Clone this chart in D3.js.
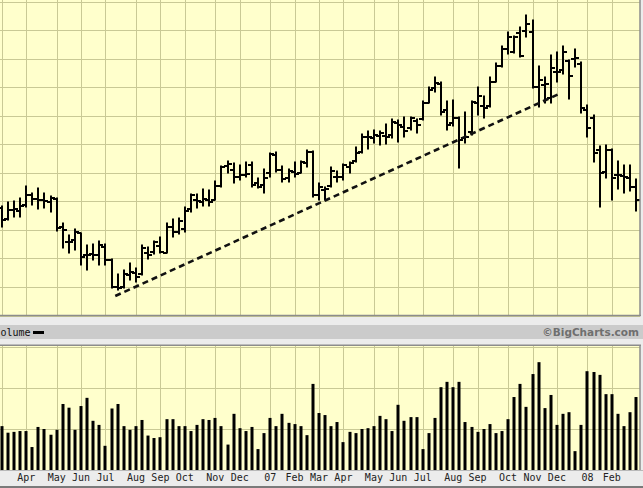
<!DOCTYPE html>
<html><head><meta charset="utf-8">
<script src="https://cdn.jsdelivr.net/npm/d3@7"></script>
<style>html,body{margin:0;padding:0;background:#ececec;overflow:hidden}</style>
</head><body>
<svg id="c" width="643" height="488"></svg>
<script>
// Weekly OHLC (arbitrary price units, grid step = 2)
const opens = [27.54,26.77,27.40,27.33,27.75,28.45,28.17,28.10,27.96,28.17,
26.21,25.16,25.30,25.79,24.25,24.32,24.25,24.81,23.90,22.00,
22.00,22.84,22.98,22.91,24.39,24.46,24.88,24.39,26.21,25.86,
26.07,27.47,28.10,27.96,28.10,28.10,29.08,30.48,30.20,29.71,
29.85,30.55,29.29,29.15,29.99,31.25,30.20,29.64,30.06,29.99,
30.69,31.46,28.45,28.80,29.08,29.71,29.71,30.41,30.83,31.46,
32.51,32.44,32.58,32.58,32.65,33.49,33.21,33.14,33.63,33.77,
34.89,35.94,36.22,34.40,33.49,33.84,32.44,32.86,34.89,34.68,
34.68,36.36,37.48,38.67,38.46,39.79,39.93,39.87,36.01,36.15,
35.24,37.06,37.20,37.83,37.97,37.62,34.40,33.84,31.60,30.06,
31.60,29.85,29.78,29.64,29.01];
const highs = [27.68,27.96,28.03,28.24,29.08,28.59,28.94,28.59,28.38,28.24,
26.49,25.65,26.07,25.79,24.95,25.02,25.23,25.02,23.97,22.91,
23.20,23.69,23.34,24.95,24.81,25.23,25.51,26.49,26.77,26.84,
27.61,28.52,28.52,28.87,28.80,29.43,30.48,30.83,30.69,30.55,
30.76,30.76,29.64,30.27,31.39,31.46,30.48,30.27,30.76,30.83,
31.60,31.53,29.29,29.01,30.41,30.13,30.62,30.76,31.81,32.72,
32.93,33.00,32.93,33.42,33.77,33.70,33.91,33.91,33.77,35.03,
36.01,36.71,36.36,35.03,35.10,33.91,34.26,35.03,36.01,35.38,
36.71,37.69,38.88,39.87,39.59,40.22,41.06,40.70,37.48,36.71,
38.25,38.46,38.88,37.90,38.67,37.76,34.75,34.05,31.88,31.95,
31.67,30.83,30.55,30.55,29.57];
const lows = [26.21,26.70,26.91,26.91,27.61,27.75,27.47,27.54,27.26,25.93,
24.74,24.39,24.60,23.55,23.20,23.90,23.55,23.55,21.93,21.79,
21.93,22.50,22.35,22.84,23.97,24.32,24.39,24.39,25.51,25.71,
25.86,27.26,27.54,27.68,27.68,28.10,29.01,29.99,29.29,29.50,
29.71,29.01,28.94,28.59,29.71,30.06,29.36,29.36,29.71,29.99,
30.41,28.31,28.10,28.10,29.01,29.36,29.50,29.99,30.76,31.39,
31.67,32.09,31.95,32.02,32.44,32.16,32.51,33.00,32.79,33.70,
34.89,35.66,34.05,33.00,33.28,30.34,32.09,32.65,34.05,33.84,
34.61,36.36,37.41,38.32,38.39,38.11,39.51,35.94,34.61,34.89,
34.89,36.36,36.92,35.17,37.41,34.19,32.51,30.76,27.61,29.64,
28.10,28.87,28.59,28.73,27.33];
const closes = [26.70,27.40,27.47,27.68,28.45,28.17,28.10,28.03,28.24,26.14,
26.00,25.16,25.86,24.11,24.25,24.25,24.95,23.90,22.00,21.93,
22.91,23.06,22.71,24.74,24.25,25.16,24.46,26.21,25.86,26.63,
27.33,28.45,28.03,28.17,27.96,29.08,30.41,30.62,29.71,29.85,
29.92,29.15,29.01,29.64,31.32,30.20,29.57,30.13,29.92,30.76,
31.46,28.45,29.01,28.87,30.13,29.71,30.55,30.69,31.39,32.51,
32.51,32.65,32.79,32.51,33.56,33.35,32.93,33.84,33.35,34.89,
35.80,36.29,34.26,33.35,33.84,32.30,32.51,34.96,35.38,34.54,
36.36,37.48,38.67,39.51,39.51,38.18,40.42,36.01,36.50,36.22,
37.34,37.06,38.46,36.78,38.04,34.54,33.14,31.39,29.99,31.60,
29.64,29.85,29.71,29.01,28.10];
// Weekly volume (millions, grid step = 10)
const volumes = [10.7,9.1,9.3,9.5,9.5,5.6,10.5,10.0,8.6,9.8,
16.1,15.2,9.8,15.6,17.6,12.0,11.0,5.9,15.0,16.1,
10.7,9.8,10.7,12.2,8.4,7.8,8.0,12.4,12.4,10.7,
10.7,9.5,11.0,12.4,12.2,12.7,10.7,6.2,13.7,10.2,
9.5,10.5,5.1,9.0,12.7,10.7,13.7,11.5,11.2,10.7,
8.5,21.0,13.9,13.4,10.7,11.7,6.8,9.3,9.0,10.0,
10.2,10.7,13.2,12.4,9.5,15.9,12.0,12.9,12.9,5.1,
9.0,12.7,20.2,21.5,20.2,21.5,11.7,10.5,9.3,10.0,
11.2,9.0,9.5,12.4,17.8,21.0,15.4,23.4,26.3,15.1,
18.3,11.0,13.7,14.1,4.6,11.0,24.1,23.9,23.2,18.5,
18.5,13.7,10.7,14.1,17.8];
// Month gridlines (week index) and labels
const monthWeeks  = [0,4,9,13,17,22,26,30,35,39,44,48,52,56,61,65,69,74,78,83,87,91,96,100];
const monthLabels = ["","Apr","May","Jun","Jul","Aug","Sep","Oct","Nov","Dec","07","Feb","Mar","Apr","May","Jun","Jul","Aug","Sep","Oct","Nov","Dec","08","Feb"];
const priceTicks = [20,22,24,26,28,30,32,34,36,38,40,42];
const volumeTicks = [10,20,30];
const trendWeeks = [18.6, 91.7];
const trendPrices = [21.37, 35.59];
const legendLabel = "olume";   // as shown (left edge of "Volume" is cut in the original)
const creditLabel = "©BigCharts.com";

const svg = d3.select("#c");
const W = 643, paneR = 640;
const x = d3.scaleLinear().domain([0, 104]).range([1.8, 1.8 + 104 * 6.1]);
const yP = d3.scaleLinear().domain([20, 42]).range([315.6, 1.5]);
const yV = d3.scaleLinear().domain([0, 30]).range([470, 347]);
const gridC = "#c9c995", yellow = "#ffffcc", borderC = "#8c8c8c";

svg.append("rect").attr("width", W).attr("height", 488).attr("fill", "#ececec");
svg.append("rect").attr("x", 0).attr("y", 0).attr("width", paneR).attr("height", 315).attr("fill", yellow);
svg.append("rect").attr("x", 0).attr("y", 345).attr("width", paneR).attr("height", 125).attr("fill", yellow);
svg.append("rect").attr("x", 0).attr("y", 325).attr("width", W).attr("height", 14).attr("fill", "#cbcbcb");

const px = v => Math.round(v) + 0.5;
const gp = svg.append("g").attr("stroke", gridC).attr("stroke-width", 1);
gp.selectAll("line.h").data(priceTicks).join("line")
  .attr("x1", 0).attr("x2", paneR).attr("y1", d => px(yP(d))).attr("y2", d => px(yP(d)));
gp.selectAll("line.v").data(monthWeeks).join("line")
  .attr("x1", d => px(x(d))).attr("x2", d => px(x(d))).attr("y1", 0).attr("y2", 315);
const gv = svg.append("g").attr("stroke", gridC).attr("stroke-width", 1);
gv.selectAll("line.h").data(volumeTicks).join("line")
  .attr("x1", 0).attr("x2", paneR).attr("y1", d => px(yV(d))).attr("y2", d => px(yV(d)));
gv.selectAll("line.v").data(monthWeeks).join("line")
  .attr("x1", d => px(x(d))).attr("x2", d => px(x(d))).attr("y1", 345).attr("y2", 470);

const bars = opens.map((o, i) => ({i, o, h: highs[i], l: lows[i], c: closes[i], v: volumes[i]}));
const gb = svg.append("g").attr("stroke", "#000").attr("stroke-width", 2);
bars.forEach(d => {
  const cx = Math.round(x(d.i));
  gb.append("line").attr("x1", cx).attr("x2", cx).attr("y1", yP(d.h) - 0.5).attr("y2", yP(d.l) + 0.5);
  gb.append("line").attr("x1", cx - 4).attr("x2", cx).attr("y1", Math.round(yP(d.o))).attr("y2", Math.round(yP(d.o)));
  gb.append("line").attr("x1", cx).attr("x2", cx + 4).attr("y1", Math.round(yP(d.c))).attr("y2", Math.round(yP(d.c)));
});

svg.append("path")
  .attr("d", d3.line().x(d => x(d[0])).y(d => yP(d[1]))(trendWeeks.map((w, k) => [w, trendPrices[k]])))
  .attr("fill", "none").attr("stroke", "#111").attr("stroke-width", 2.6).attr("stroke-dasharray", "6,4");

svg.append("g").selectAll("rect").data(bars).join("rect")
  .attr("x", d => Math.round(x(d.i)) - 1.5).attr("width", 3)
  .attr("y", d => yV(d.v)).attr("height", d => yV(0) - yV(d.v)).attr("fill", "#000");

const gbd = svg.append("g").attr("stroke", borderC).attr("stroke-width", 1.5).attr("fill", "none");
gbd.append("line").attr("x1", 0).attr("x2", 641).attr("y1", 315.5).attr("y2", 315.5);
gbd.append("line").attr("x1", 640).attr("x2", 640).attr("y1", 0).attr("y2", 316);
gbd.append("line").attr("x1", 0).attr("x2", 641).attr("y1", 345.25).attr("y2", 345.25);
gbd.append("line").attr("x1", 640).attr("x2", 640).attr("y1", 345).attr("y2", 471);
svg.append("line").attr("x1", 0).attr("x2", W).attr("y1", 470.5).attr("y2", 470.5).attr("stroke", "#b8b8b8");
svg.append("line").attr("x1", 0).attr("x2", W).attr("y1", 487).attr("y2", 487).attr("stroke", "#7a7a7a").attr("stroke-width", 2);

svg.append("text").attr("x", 0.5).attr("y", 336).text(legendLabel)
  .attr("font-family", "DejaVu Sans Mono").attr("font-size", 10).attr("fill", "#111");
svg.append("rect").attr("x", 33).attr("y", 331).attr("width", 11).attr("height", 3).attr("fill", "#000");
svg.append("text").attr("x", 639).attr("y", 336).attr("text-anchor", "end").text(creditLabel)
  .attr("font-family", "DejaVu Sans").attr("font-weight", "bold").attr("font-size", 10.5).attr("fill", "#6f6f6f");

svg.append("g").selectAll("text").data(monthWeeks.map((w, k) => ({w, t: monthLabels[k]})).filter(d => d.t)).join("text")
  .attr("x", d => x(d.w)).attr("y", 481).attr("text-anchor", "middle").text(d => d.t)
  .attr("font-family", "DejaVu Sans Mono").attr("font-size", 10).attr("fill", "#222");
</script>
</body></html>
